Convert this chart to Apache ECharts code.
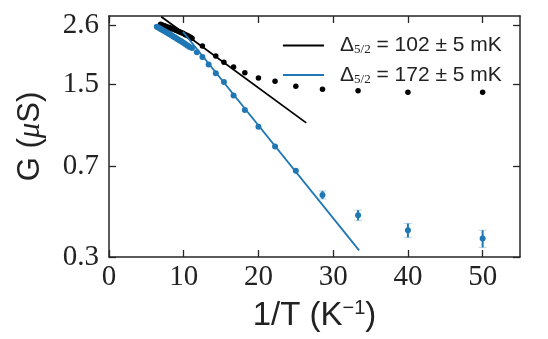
<!DOCTYPE html>
<html><head><meta charset="utf-8">
<script src="https://cdn.jsdelivr.net/npm/echarts@6/dist/echarts.min.js"></script>
<style>html,body{margin:0;padding:0;background:#fff}#c{width:548px;height:339px}</style>
</head><body><div id="c"></div>
<script>
// ---- data ----
const blackX = [6.9, 7.1, 7.3, 7.5, 7.7, 7.9, 8.1, 8.3, 8.5, 8.7, 8.9, 9.1, 9.3, 9.5, 9.7, 9.9, 10.1, 10.3, 10.5, 10.7, 10.9, 11.11, 12.5, 14.29, 15.38, 16.67, 18.18, 20, 22.22, 25, 28.57, 33.33, 40, 50];
const blackY = [2.62, 2.60, 2.59, 2.58, 2.56, 2.55, 2.54, 2.52, 2.51, 2.50, 2.48, 2.47, 2.45, 2.44, 2.42, 2.41, 2.39, 2.37, 2.36, 2.34, 2.32, 2.30, 2.14, 1.95, 1.84, 1.76, 1.67, 1.59, 1.54, 1.47, 1.43, 1.41, 1.39, 1.39];
const blueX = [6.4, 6.6, 6.8, 7.0, 7.2, 7.4, 7.6, 7.8, 8.0, 8.2, 8.4, 8.6, 8.8, 9.0, 9.2, 9.4, 9.6, 9.8, 10.0, 10.2, 10.4, 10.6, 10.8, 11.11, 11.76, 12.5, 13.33, 14.29, 15.38, 16.67, 18.18, 20, 22.22, 25, 28.57, 33.33, 40, 50];
const blueY = [2.56, 2.54, 2.52, 2.50, 2.48, 2.46, 2.44, 2.42, 2.40, 2.38, 2.36, 2.34, 2.32, 2.30, 2.28, 2.26, 2.24, 2.22, 2.20, 2.18, 2.16, 2.14, 2.12, 2.10, 2.02, 1.93, 1.80, 1.66, 1.53, 1.35, 1.18, 1.01, 0.84, 0.67, 0.535, 0.443, 0.385, 0.356];
const errX = [28.57, 33.33, 40, 50];
const errLow = [0.515, 0.422, 0.360, 0.328];
const errHigh = [0.555, 0.464, 0.410, 0.385];
const fitBlackX = [7.0, 26.4];
const fitBlackY = [2.81, 1.046];
const fitBlueX = [9.9, 33.47];
const fitBlueY = [2.443, 0.319];
const xTicks = [0, 10, 20, 30, 40, 50];
const yTicks = [0.3, 0.7, 1.5, 2.6];
const legendValues = ['102 ± 5 mK', '172 ± 5 mK'];

// ---- chart ----
const BLUE = '#1f77b4';
const AX = '#262626';
const zip = (xs, ys) => xs.map((x, i) => [x, ys[i]]);
const chart = echarts.init(document.getElementById('c'), null, {renderer: 'canvas'});

const tickStyle = {color: AX, width: 1.3};
const xBase = {type: 'value', min: 0, max: 55, splitLine: {show: false},
  axisLine: {show: true, onZero: false, lineStyle: {color: AX, width: 1.5}},
  axisTick: {show: true, inside: true, length: 7, customValues: xTicks, lineStyle: tickStyle}};
const yBase = {type: 'log', min: 0.3, max: 2.83, splitLine: {show: false}, minorTick: {show: false},
  axisLine: {show: true, onZero: false, lineStyle: {color: AX, width: 1.5}},
  axisTick: {show: true, inside: true, length: 7, customValues: yTicks, lineStyle: tickStyle}};

const option = {
  animation: false,
  backgroundColor: '#fff',
  grid: {left: 109, right: 28, top: 16, bottom: 82, show: false},
  xAxis: [
    Object.assign({}, xBase, {position: 'bottom',
      axisLabel: {customValues: xTicks, fontFamily: 'Liberation Serif', fontSize: 29, color: '#222', margin: 6},
      name: '{a|1/T (K}{s|−1}{a|)}', nameLocation: 'middle', nameGap: 41,
      nameTextStyle: {rich: {
        a: {fontFamily: 'Liberation Sans', fontSize: 33, color: '#222'},
        s: {fontFamily: 'Liberation Sans', fontSize: 20, color: '#222', verticalAlign: 'top', padding: [0, 0, 15, 0]}
      }}}),
    Object.assign({}, xBase, {position: 'top', axisLabel: {show: false}})
  ],
  yAxis: [
    Object.assign({}, yBase, {position: 'left',
      axisLabel: {customValues: yTicks, fontFamily: 'Liberation Serif', fontSize: 29, color: '#222', margin: 10,
        formatter: v => String(Math.round(v * 10) / 10)},
      name: '{a|G (}{m|μ}{a|S)}', nameLocation: 'middle', nameRotate: 90, nameGap: 63,
      nameTextStyle: {rich: {
        a: {fontFamily: 'Liberation Sans', fontSize: 31, color: '#222'},
        m: {fontFamily: 'Liberation Serif', fontStyle: 'italic', fontSize: 31, color: '#222'}
      }}}),
    Object.assign({}, yBase, {position: 'right', axisLabel: {show: false}})
  ],
  legend: {
    left: 278, top: 30, orient: 'vertical', itemWidth: 41, itemHeight: 2, itemGap: 8,
    data: [{name: 'fitBlack', icon: 'rect'}, {name: 'fitBlue', icon: 'rect'}],
    formatter: n => '{d|Δ}{sub|5/2}{t| = ' + (n === 'fitBlack' ? legendValues[0] : legendValues[1]) + '}',
    textStyle: {padding: [0, 0, 0, 11], rich: {
      d: {fontFamily: 'Liberation Sans', fontSize: 21, color: '#222'},
      sub: {fontFamily: 'Liberation Serif', fontSize: 13, color: '#222', verticalAlign: 'bottom', padding: [9, 0, 0, 0]},
      t: {fontFamily: 'Liberation Sans', fontSize: 21, color: '#222'}
    }}
  },
  series: [
    {type: 'scatter', name: 'black', data: zip(blackX, blackY), symbolSize: 5.5,
      itemStyle: {color: '#000', opacity: 1}, z: 3},
    {type: 'custom', name: 'err', xAxisIndex: 0, yAxisIndex: 0, z: 3,
      data: errX.map((x, i) => [x, errLow[i], errHigh[i]]),
      encode: {x: 0, y: [1, 2]},
      renderItem: (params, api) => {
        const lo = api.coord([api.value(0), api.value(1)]);
        const hi = api.coord([api.value(0), api.value(2)]);
        return {type: 'group', children: [
          {type: 'line', shape: {x1: lo[0], y1: lo[1], x2: hi[0], y2: hi[1]}, style: {stroke: BLUE, lineWidth: 2}},
          {type: 'line', shape: {x1: lo[0] - 4, y1: lo[1], x2: lo[0] + 4, y2: lo[1]}, style: {stroke: BLUE, opacity: 0.3, lineWidth: 1}},
          {type: 'line', shape: {x1: hi[0] - 4, y1: hi[1], x2: hi[0] + 4, y2: hi[1]}, style: {stroke: BLUE, opacity: 0.3, lineWidth: 1}}
        ]};
      }},
    {type: 'scatter', name: 'blue', data: zip(blueX, blueY), symbolSize: 6,
      itemStyle: {color: BLUE, opacity: 1}, z: 3},
    {type: 'line', name: 'fitBlack', data: zip(fitBlackX, fitBlackY), symbol: 'none',
      lineStyle: {color: '#000', width: 1.8}, itemStyle: {color: '#000'}, z: 4},
    {type: 'line', name: 'fitBlue', data: zip(fitBlueX, fitBlueY), symbol: 'none',
      lineStyle: {color: BLUE, width: 1.8}, itemStyle: {color: BLUE}, z: 4}
  ]
};
chart.setOption(option);
</script></body></html>
